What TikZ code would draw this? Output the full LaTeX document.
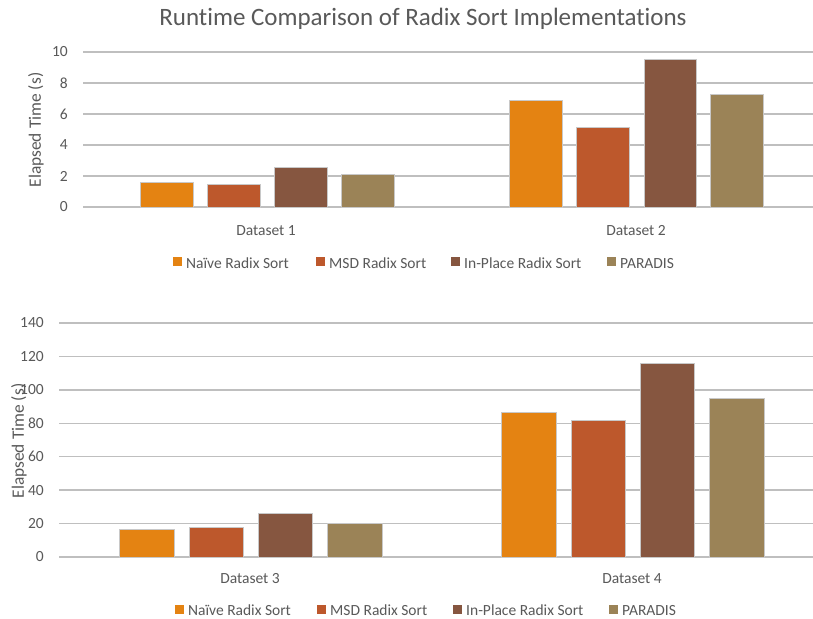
\documentclass[tikz,border=0pt]{standalone}
\usepackage{fontspec}
\setmainfont{Carlito}[Ligatures=NoCommon]
\definecolor{txt}{HTML}{595959}
\definecolor{gridc}{HTML}{BFBFBF}
\definecolor{edgec}{HTML}{C8C8C8}
\definecolor{naive}{HTML}{E48312}
\definecolor{msd}{HTML}{BD582C}
\definecolor{inplace}{HTML}{865640}
\definecolor{paradis}{HTML}{9B8357}

\begin{document}
\begin{tikzpicture}[x=1pt,y=-1pt,
  gridline/.style={draw=gridc,line width=1.4pt},
  bar/.style={draw=edgec,line width=0.7pt},
  lbl/.style={text=txt,font=\fontsize{15.5}{18}\selectfont,inner sep=0pt},
  ticklbl/.style={lbl,anchor=east},
  catlbl/.style={lbl,anchor=base},
  leglbl/.style={lbl,anchor=base west,text depth=0pt,font=\fontsize{15.5}{18}\selectfont},
  legsq/.style={inner sep=0pt,minimum width=9pt,minimum height=9pt},
  axtitle/.style={lbl,rotate=90,font=\fontsize{17.4}{20}\selectfont}]
\useasboundingbox[fill=white] (0,0) rectangle (813,618);

% title
\node[lbl,font=\fontsize{25}{30}\selectfont] (title) at (423,19) {Runtime Comparison of Radix Sort Implementations};

% ---------- upper chart (0 .. 10 s) ----------
\foreach \v/\y in {0/207,2/176,4/145,6/114,8/83,10/52}{
  \draw[gridline] (83,\y) -- (813,\y);
  \node[ticklbl] (ta\v) at (68,\y) {\v};
}
\node[axtitle] (ya) at (36,130) {Elapsed Time (s)};

% Dataset 1
\filldraw[bar,fill=naive]   (140,207) rectangle (193,182.2);
\filldraw[bar,fill=msd]     (207,207) rectangle (260,184.1);
\filldraw[bar,fill=inplace] (274,207) rectangle (327,167.0);
\filldraw[bar,fill=paradis] (341,207) rectangle (394,174.4);
% Dataset 2
\filldraw[bar,fill=naive]   (509,207) rectangle (562,100.0);
\filldraw[bar,fill=msd]     (576,207) rectangle (629,127.0);
\filldraw[bar,fill=inplace] (644,207) rectangle (696,59.0);
\filldraw[bar,fill=paradis] (710,207) rectangle (763,94.0);

\node[catlbl] (c1) at (266,235) {Dataset 1};
\node[catlbl] (c2) at (636,235) {Dataset 2};

% legend
\node[legsq,fill=naive]   (la1) at (177.5,261.5) {};
\node[leglbl] (lt1) at (186,268) {Naïve Radix Sort};
\node[legsq,fill=msd]     (la2) at (320.5,261.5) {};
\node[leglbl] (lt2) at (329,268) {MSD Radix Sort};
\node[legsq,fill=inplace] (la3) at (455.5,261.5) {};
\node[leglbl] (lt3) at (464,268) {In-Place Radix Sort};
\node[legsq,fill=paradis] (la4) at (611.5,261.5) {};
\node[leglbl] (lt4) at (620,268) {PARADIS};

% ---------- lower chart (0 .. 140 s) ----------
\foreach \v/\y in {0/557,20/523.6,40/490.1,60/456.7,80/423.3,100/389.9,120/356.4,140/323}{
  \draw[gridline] (59,\y) -- (813,\y);
  \node[ticklbl] (tb\v) at (44,\y) {\v};
}
\node[axtitle] (yb) at (19,441) {Elapsed Time (s)};

% Dataset 3
\filldraw[bar,fill=naive]   (119,557) rectangle (174,528.9);
\filldraw[bar,fill=msd]     (189,557) rectangle (243,526.9);
\filldraw[bar,fill=inplace] (258,557) rectangle (312,512.9);
\filldraw[bar,fill=paradis] (327,557) rectangle (382,522.9);
% Dataset 4
\filldraw[bar,fill=naive]   (501,557) rectangle (556,411.9);
\filldraw[bar,fill=msd]     (571,557) rectangle (625,419.9);
\filldraw[bar,fill=inplace] (640,557) rectangle (694,363.0);
\filldraw[bar,fill=paradis] (709,557) rectangle (764,397.9);

\node[catlbl] (c3) at (250,583) {Dataset 3};
\node[catlbl] (c4) at (632,583) {Dataset 4};

% legend
\node[legsq,fill=naive]   (lb1) at (179.5,609.5) {};
\node[leglbl] (ls1) at (188,615.3) {Naïve Radix Sort};
\node[legsq,fill=msd]     (lb2) at (321.5,609.5) {};
\node[leglbl] (ls2) at (330,615.3) {MSD Radix Sort};
\node[legsq,fill=inplace] (lb3) at (457.5,609.5) {};
\node[leglbl] (ls3) at (466,615.3) {In-Place Radix Sort};
\node[legsq,fill=paradis] (lb4) at (613.5,609.5) {};
\node[leglbl] (ls4) at (622,615.3) {PARADIS};
\end{tikzpicture}
\end{document}
